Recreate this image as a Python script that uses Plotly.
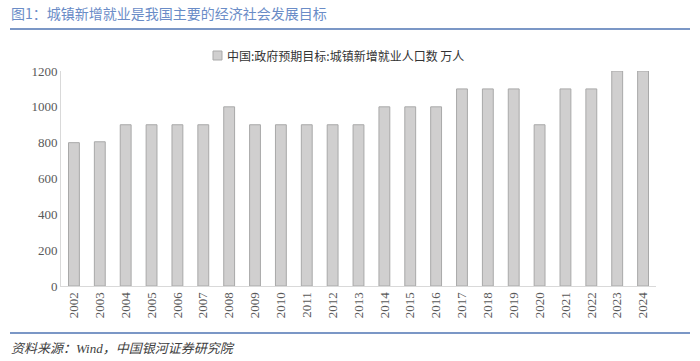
import plotly.graph_objects as go

years = [str(y) for y in range(2002, 2025)]
values = [800, 805, 900, 900, 900, 900, 1000, 900, 900, 900, 900, 900,
          1000, 1000, 1000, 1100, 1100, 1100, 900, 1100, 1100, 1200, 1200]
series_name = "中国:政府预期目标:城镇新增就业人口数 万人"
y_ticks = [0, 200, 400, 600, 800, 1000, 1200]

title_text = "图1：城镇新增就业是我国主要的经济社会发展目标"
source_text = "资料来源：Wind，中国银河证券研究院"

L, T, R, B = 61, 71, 656, 286
PW, PH = R - L, B - T
SERIF = '"Liberation Serif", "Times New Roman", "DejaVu Serif", serif'

def px_x(x):
    return (x - L) / PW

def px_y(y):
    return (B - y) / PH

fig = go.Figure()
fig.add_trace(go.Bar(
    x=years, y=values, name=series_name,
    marker=dict(color="#d0cfcf", line=dict(color="#a9a9a9", width=1)),
    width=0.42, showlegend=False, hoverinfo="x+y",
))

fig.update_layout(
    width=700, height=361,
    margin=dict(l=L, r=700 - R, t=T, b=361 - B, autoexpand=False),
    paper_bgcolor="white", plot_bgcolor="white",
    font=dict(family=SERIF, color="#595959", size=12),
    showlegend=False,
    bargap=0.58,
)
fig.update_xaxes(
    type="category", tickangle=-90, showline=True, linecolor="#d9d9d9", linewidth=1,
    ticks="", showgrid=False, automargin=False,
    tickfont=dict(family=SERIF, size=13, color="#595959"),
)
fig.update_yaxes(
    range=[0, 1200], tickvals=y_ticks, showline=True, linecolor="#d9d9d9", linewidth=1,
    showgrid=False, zeroline=False, ticks="", automargin=False,
    tickfont=dict(family=SERIF, size=13, color="#595959"),
)

# legend (manual)
fig.add_shape(type="rect", xref="paper", yref="paper",
              x0=px_x(213), x1=px_x(222), y0=px_y(60), y1=px_y(51),
              fillcolor="#d0cfcf", line=dict(color="#a9a9a9", width=1))
fig.add_annotation(
    text=series_name, xref="paper", yref="paper", x=px_x(225), y=px_y(55.5),
    xanchor="left", yanchor="middle", showarrow=False,
    font=dict(family="Noto Sans CJK SC", size=12, color="#333333"),
)

fig.add_annotation(
    text=title_text, xref="paper", yref="paper", x=px_x(9), y=px_y(13),
    xanchor="left", yanchor="middle", showarrow=False,
    font=dict(family="Noto Sans CJK SC", size=14, color="#6a8cc7"),
)
fig.add_shape(type="line", xref="paper", yref="paper",
              x0=px_x(10), x1=px_x(690), y0=px_y(29), y1=px_y(29),
              line=dict(color="#4f74b3", width=1.5))
fig.add_shape(type="line", xref="paper", yref="paper",
              x0=px_x(10), x1=px_x(690), y0=px_y(333), y1=px_y(333),
              line=dict(color="#4f74b3", width=1.5))
fig.add_annotation(
    text="<i>" + source_text + "</i>", xref="paper", yref="paper", x=px_x(9), y=px_y(348),
    xanchor="left", yanchor="middle", showarrow=False,
    font=dict(family=SERIF + ', "Noto Sans CJK SC"', size=13, color="#404040"),
)

fig.write_html("out.html", config={"displayModeBar": False},
               post_script="document.body.style.margin='0';document.body.style.overflow='hidden';")
